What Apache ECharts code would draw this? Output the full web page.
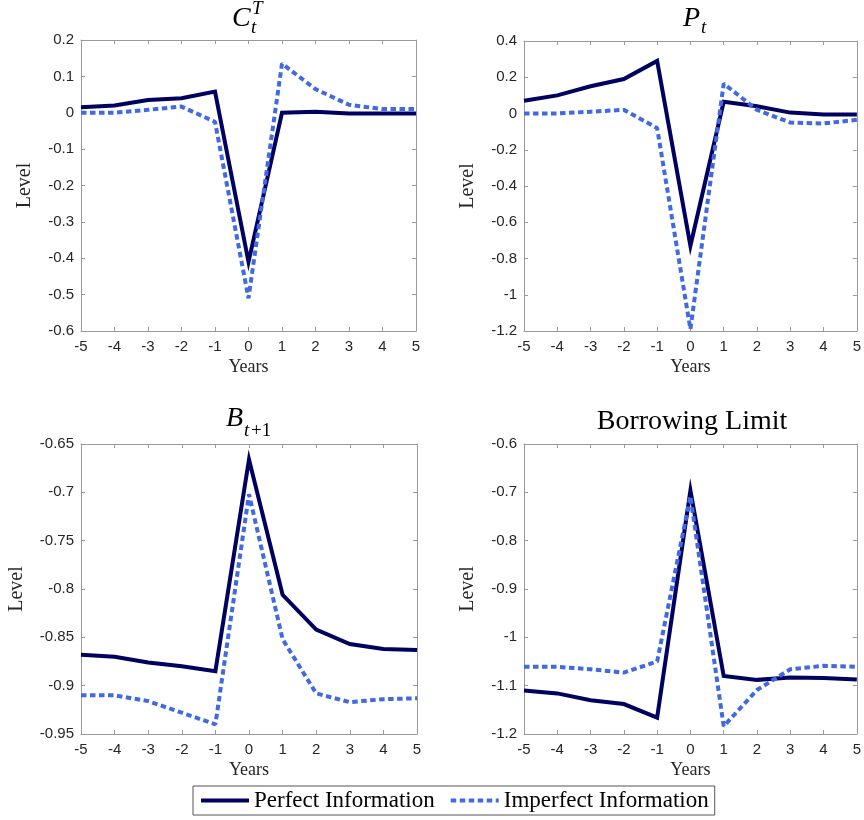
<!DOCTYPE html>
<html>
<head>
<meta charset="utf-8">
<script src="https://cdn.jsdelivr.net/npm/echarts@6/dist/echarts.min.js"></script>
<style>html,body{margin:0;padding:0;background:#fff;}#chart{width:864px;height:820px;}</style>
</head>
<body>
<div id="chart"></div>
<script>
const years = [-5, -4, -3, -2, -1, 0, 1, 2, 3, 4, 5];

const ctPerfect   = [0.015, 0.020, 0.035, 0.040, 0.058, -0.410, 0.000, 0.003, -0.002, -0.002, -0.002];
const ctImperfect = [0.000, 0.000, 0.008, 0.017, -0.025, -0.510, 0.135, 0.065, 0.022, 0.010, 0.010];

const ptPerfect   = [0.070, 0.100, 0.150, 0.190, 0.290, -0.730, 0.065, 0.040, 0.005, -0.005, -0.005];
const ptImperfect = [0.000, 0.000, 0.010, 0.020, -0.080, -1.190, 0.165, 0.020, -0.050, -0.055, -0.035];

const bPerfect   = [-0.868, -0.870, -0.876, -0.880, -0.885, -0.666, -0.806, -0.842, -0.857, -0.862, -0.863];
const bImperfect = [-0.910, -0.910, -0.916, -0.928, -0.940, -0.702, -0.852, -0.908, -0.917, -0.914, -0.913];

const blPerfect   = [-1.110, -1.116, -1.130, -1.138, -1.166, -0.696, -1.080, -1.088, -1.083, -1.084, -1.087];
const blImperfect = [-1.061, -1.061, -1.066, -1.073, -1.050, -0.708, -1.184, -1.109, -1.066, -1.059, -1.061];

const seriesNames = ['Perfect Information', 'Imperfect Information'];

const panels = [
  { left: 81,  top: 40,  width: 335, height: 291, min: -0.6,  max: 0.2,   step: 0.1,  nameGap: 46, perfect: ctPerfect, imperfect: ctImperfect },
  { left: 524, top: 41,  width: 336, height: 290, min: -1.2,  max: 0.4,   step: 0.2,  nameGap: 46, perfect: ptPerfect, imperfect: ptImperfect },
  { left: 81,  top: 444, width: 336, height: 290, min: -0.95, max: -0.65, step: 0.05, nameGap: 54, perfect: bPerfect,  imperfect: bImperfect },
  { left: 524, top: 444, width: 336, height: 290, min: -1.2,  max: -0.6,  step: 0.1,  nameGap: 46, perfect: blPerfect, imperfect: blImperfect }
];

const SANS = 'Liberation Sans, Arial, sans-serif';
const SERIF = 'Liberation Serif, Times New Roman, serif';
const AXC = '#9a9a9a';
const TXT = '#262626';
const NAVY = '#000060';
const BLUE = '#4169E1';
const DOT = [5.5, 3.5];

const grids = [], xAxes = [], yAxes = [], series = [];
panels.forEach((p, i) => {
  grids.push({ left: p.left, top: p.top, width: p.width, height: p.height, containLabel: false });
  const axLine = { show: true, onZero: false, lineStyle: { color: AXC, width: 1 } };
  const tick = { show: true, inside: true, length: 4, lineStyle: { color: AXC } };
  xAxes.push({
    type: 'value', gridIndex: i, min: -5, max: 5, interval: 1, position: 'bottom',
    axisLine: axLine, axisTick: tick, splitLine: { show: false },
    axisLabel: { color: TXT, fontFamily: SANS, fontSize: 15, margin: 8 },
    name: 'Years', nameLocation: 'middle', nameGap: 27,
    nameTextStyle: { fontFamily: SERIF, fontSize: 18, color: TXT }
  });
  xAxes.push({
    type: 'value', gridIndex: i, min: -5, max: 5, interval: 1, position: 'top',
    axisLine: axLine, axisTick: tick, splitLine: { show: false }, axisLabel: { show: false }
  });
  yAxes.push({
    type: 'value', gridIndex: i, min: p.min, max: p.max, interval: p.step, position: 'left',
    axisLine: axLine, axisTick: tick, splitLine: { show: false },
    axisLabel: { color: TXT, fontFamily: SANS, fontSize: 15, margin: 7,
      formatter: v => String(parseFloat(v.toFixed(2))) },
    name: 'Level', nameLocation: 'middle', nameGap: p.nameGap, nameRotate: 90,
    nameTextStyle: { fontFamily: SERIF, fontSize: 20, color: TXT }
  });
  yAxes.push({
    type: 'value', gridIndex: i, min: p.min, max: p.max, interval: p.step, position: 'right',
    axisLine: axLine, axisTick: tick, splitLine: { show: false }, axisLabel: { show: false }
  });
  series.push({
    name: seriesNames[0], type: 'line', xAxisIndex: 2 * i, yAxisIndex: 2 * i,
    data: years.map((y, k) => [y, p.perfect[k]]),
    symbol: 'none', lineStyle: { color: NAVY, width: 4, cap: 'butt', join: 'miter' },
    itemStyle: { color: NAVY }, z: 2
  });
  series.push({
    name: seriesNames[1], type: 'line', xAxisIndex: 2 * i, yAxisIndex: 2 * i,
    data: years.map((y, k) => [y, p.imperfect[k]]),
    symbol: 'none', lineStyle: { color: BLUE, width: 4, type: DOT, cap: 'butt' },
    itemStyle: { color: BLUE }, z: 3
  });
});

const it = (txt, x, y, size, italic) => ({
  type: 'text', x: x, y: y, silent: true,
  style: { text: txt, fill: '#000', font: (italic ? 'italic ' : '') + size + 'px ' + SERIF,
    textAlign: 'left', textVerticalAlign: 'middle', verticalAlign: 'middle' }
});

const graphic = [
  it('C', 232, 19, 28, true), it('T', 252, 9, 19, true), it('t', 251, 28, 19, true),
  it('P', 683, 19, 28, true), it('t', 701, 28, 19, true),
  it('B', 226, 419, 28, true), it('t', 244, 431, 19, true), it('+1', 251, 431, 19, false),
  { type: 'text', x: 692, y: 422, silent: true,
    style: { text: 'Borrowing Limit', fill: '#000', font: '28px ' + SERIF,
      textAlign: 'center', textVerticalAlign: 'middle', verticalAlign: 'middle' } }
];

const chart = echarts.init(document.getElementById('chart'), null, { renderer: 'canvas' });
chart.setOption({
  animation: false,
  backgroundColor: '#fff',
  grid: grids, xAxis: xAxes, yAxis: yAxes, series: series,
  graphic: graphic,
  legend: {
    data: seriesNames, left: 193, top: 786,
    orient: 'horizontal', itemWidth: 48, itemHeight: 14, itemGap: 14,
    padding: [3, 6, 3, 6],
    borderColor: '#555', borderWidth: 1,
    itemStyle: { color: 'rgba(0,0,0,0)', borderColor: 'rgba(0,0,0,0)', borderWidth: 0 },
    lineStyle: { width: 4 },
    textStyle: { fontFamily: SERIF, fontSize: 23, color: '#000' }
  }
});
</script>
</body>
</html>
